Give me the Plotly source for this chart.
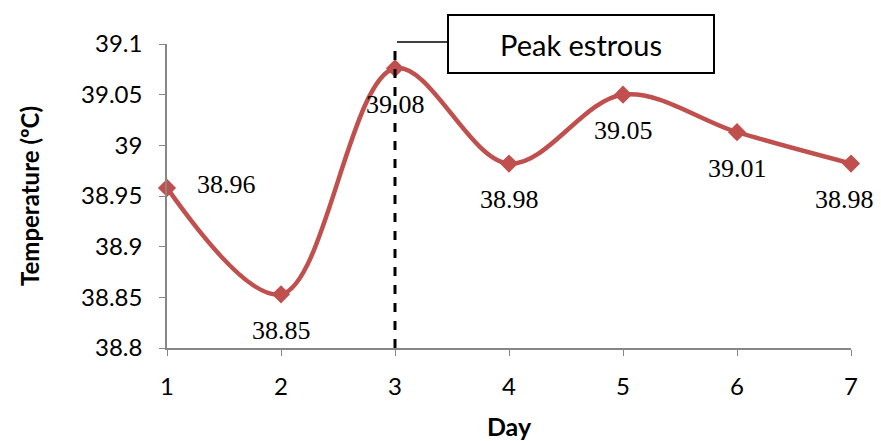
import plotly.graph_objects as go

days = [1, 2, 3, 4, 5, 6, 7]
temps = [38.958, 38.853, 39.076, 38.982, 39.05, 39.013, 38.982]
labels = ["38.96", "38.85", "39.08", "38.98", "39.05", "39.01", "38.98"]
label_pos = ["middle right", "bottom center", "bottom center", "bottom center",
             "bottom center", "bottom center", "bottom center"]
y_ticks = [38.8, 38.85, 38.9, 38.95, 39.0, 39.05, 39.1]
y_tick_text = ["38.8", "38.85", "38.9", "38.95", "39", "39.05", "39.1"]
peak_day = 3
peak_text = "Peak estrous"

red = "#C0504D"
fig = go.Figure()
fig.add_trace(go.Scatter(
    x=days, y=temps, mode="lines+markers",
    line=dict(color=red, width=4.5, shape="spline", smoothing=1.0),
    marker=dict(symbol="diamond", size=14, color=red),
    showlegend=False, cliponaxis=False,
))
# data labels
offsets = {"middle right": (59, -3), "bottom center": (0, 36)}
for i, (d, t, lab, pos) in enumerate(zip(days, temps, labels, label_pos)):
    dx, dy = offsets[pos]
    if i == len(days) - 1:
        dx -= 7
    fig.add_annotation(x=d, y=t, text=lab, showarrow=False,
                       xshift=dx, yshift=-dy,
                       font=dict(family="Liberation Serif", size=26, color="#000"))

# dashed peak line
fig.add_shape(type="line", xref="x", yref="paper", x0=peak_day, x1=peak_day,
              y0=0, y1=1.0066, line=dict(color="black", width=3, dash="dash"))
# connector
fig.add_shape(type="line", xref="paper", yref="paper",
              x0=(397 - 167) / 684, x1=(447 - 167) / 684, y0=1.0066, y1=1.0066,
              line=dict(color="black", width=1.5))
fig.add_annotation(xref="paper", yref="paper", x=(447 - 167) / 684, y=(348 - 14) / 304,
                   xanchor="left", yanchor="top", text=peak_text, showarrow=False,
                   width=262, height=54, bordercolor="black", borderwidth=2,
                   bgcolor="white", font=dict(family="Lato", size=29, color="#000"))

axis_common = dict(showgrid=False, zeroline=False, showline=True, linecolor="#868686",
                   linewidth=1.5, ticks="outside", tickcolor="#868686", ticklen=6,
                   automargin=False,
                   tickfont=dict(family="Lato", size=24, color="#000"))
fig.update_xaxes(range=[1, 7], tickvals=days, ticklabelstandoff=10,
                 title=dict(text="<b>Day</b>",
                            font=dict(family="Lato", size=25, color="#000"), standoff=20),
                 **axis_common)
fig.update_yaxes(range=[38.8, 39.1], tickvals=y_ticks, ticktext=y_tick_text,
                 ticklabelstandoff=12,
                 title=dict(text="<b>Temperature (ºC)</b>",
                            font=dict(family="Lato", size=24, color="#000"), standoff=35),
                 **axis_common)
fig.update_layout(width=873, height=433, margin=dict(l=159, r=30, t=36, b=93),
                  plot_bgcolor="white", paper_bgcolor="white")
fig.write_html("out.html")
